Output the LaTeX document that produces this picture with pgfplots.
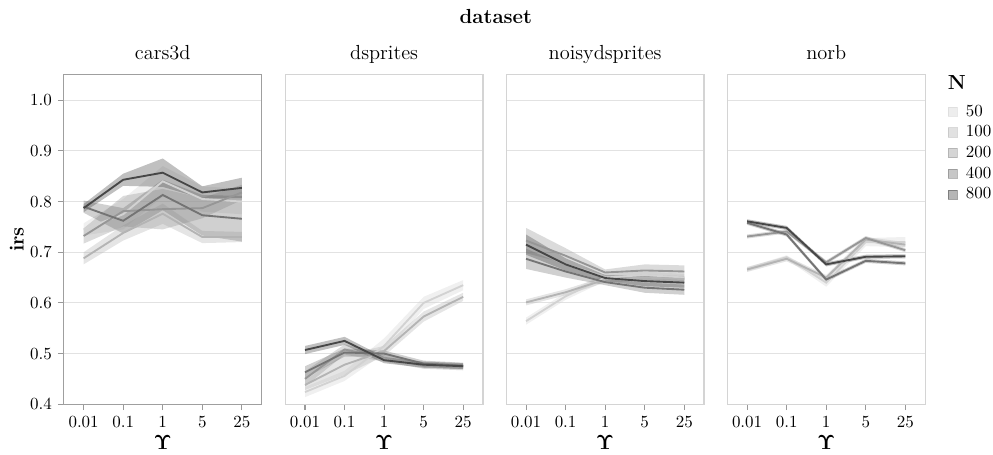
\documentclass[border=0pt]{standalone}
\usepackage{pgfplots}
\pgfplotsset{compat=1.18}
\usepackage{pgfplotstable}
\usepackage{amsmath,bm}
\usepgfplotslibrary{fillbetween}

\definecolor{c50}{HTML}{D2D2D2}
\definecolor{c100}{HTML}{B4B4B4}
\definecolor{c200}{HTML}{969696}
\definecolor{c400}{HTML}{747474}
\definecolor{c800}{HTML}{474747}
\definecolor{gridc}{HTML}{E2E2E2}
\definecolor{framec}{HTML}{D4D4D4}

\pgfplotstableread{
x m50 l50 h50 m100 l100 h100 m200 l200 h200 m400 l400 h400 m800 l800 h800
0 0.745 0.733 0.757 0.688 0.676 0.700 0.732 0.717 0.747 0.790 0.778 0.802 0.787 0.779 0.795
1 0.775 0.745 0.805 0.738 0.723 0.753 0.781 0.751 0.811 0.762 0.737 0.787 0.843 0.831 0.855
2 0.840 0.810 0.870 0.776 0.756 0.796 0.785 0.745 0.825 0.813 0.783 0.843 0.857 0.829 0.885
3 0.805 0.780 0.830 0.730 0.718 0.742 0.787 0.767 0.807 0.773 0.733 0.813 0.818 0.806 0.830
4 0.800 0.775 0.825 0.730 0.720 0.740 0.818 0.803 0.833 0.766 0.721 0.811 0.827 0.807 0.847
}\tcars

\pgfplotstableread{
x m50 l50 h50 m100 l100 h100 m200 l200 h200 m400 l400 h400 m800 l800 h800
0 0.424 0.414 0.434 0.438 0.428 0.448 0.450 0.435 0.465 0.463 0.451 0.475 0.507 0.499 0.515
1 0.456 0.446 0.466 0.478 0.458 0.498 0.508 0.498 0.518 0.502 0.494 0.510 0.525 0.517 0.533
2 0.515 0.500 0.530 0.505 0.495 0.515 0.492 0.484 0.500 0.500 0.494 0.506 0.487 0.481 0.493
3 0.600 0.588 0.612 0.573 0.563 0.583 0.476 0.470 0.482 0.480 0.474 0.486 0.478 0.472 0.484
4 0.635 0.625 0.645 0.612 0.604 0.620 0.473 0.467 0.479 0.476 0.470 0.482 0.475 0.469 0.481
}\tdspr

\pgfplotstableread{
x m50 l50 h50 m100 l100 h100 m200 l200 h200 m400 l400 h400 m800 l800 h800
0 0.564 0.557 0.571 0.601 0.595 0.607 0.723 0.698 0.748 0.687 0.667 0.707 0.715 0.695 0.735
1 0.613 0.606 0.620 0.621 0.615 0.627 0.693 0.678 0.708 0.662 0.650 0.674 0.676 0.664 0.688
2 0.650 0.643 0.657 0.646 0.640 0.652 0.660 0.654 0.666 0.641 0.635 0.647 0.649 0.643 0.655
3 0.655 0.648 0.662 0.650 0.644 0.656 0.664 0.652 0.676 0.630 0.620 0.640 0.643 0.633 0.653
4 0.650 0.643 0.657 0.647 0.641 0.653 0.662 0.650 0.674 0.626 0.616 0.636 0.640 0.630 0.650
}\tnoisy

\pgfplotstableread{
x m50 l50 h50 m100 l100 h100 m200 l200 h200 m400 l400 h400 m800 l800 h800
0 0.666 0.662 0.670 0.666 0.661 0.671 0.731 0.727 0.735 0.758 0.754 0.762 0.761 0.757 0.765
1 0.690 0.686 0.694 0.687 0.682 0.692 0.741 0.737 0.745 0.735 0.731 0.739 0.748 0.744 0.752
2 0.640 0.632 0.648 0.650 0.645 0.655 0.680 0.676 0.684 0.646 0.642 0.650 0.676 0.672 0.680
3 0.720 0.712 0.728 0.725 0.720 0.730 0.728 0.724 0.732 0.683 0.679 0.687 0.691 0.687 0.695
4 0.720 0.710 0.730 0.715 0.710 0.720 0.704 0.700 0.708 0.678 0.674 0.682 0.692 0.688 0.696
}\tnorb

% band: table, id, N, colour
\newcommand{\band}[4]{%
  \addplot[draw=none, forget plot, name path=lo-#2-#3] table[x=x,y=l#3]{#1};
  \addplot[draw=none, forget plot, name path=up-#2-#3] table[x=x,y=h#3]{#1};
  \addplot[fill=#4, fill opacity=0.34, draw=none, forget plot] fill between[of=up-#2-#3 and lo-#2-#3];
}
\newcommand{\meanline}[4]{%
  \addplot[#4, line width=1.1pt, forget plot] table[x=x,y=m#3]{#1};
}
\newcommand{\panel}[2]{%
  \band{#1}{#2}{50}{c50}\band{#1}{#2}{100}{c100}\band{#1}{#2}{200}{c200}\band{#1}{#2}{400}{c400}\band{#1}{#2}{800}{c800}
  \meanline{#1}{#2}{50}{c50}\meanline{#1}{#2}{100}{c100}\meanline{#1}{#2}{200}{c200}\meanline{#1}{#2}{400}{c400}\meanline{#1}{#2}{800}{c800}
}
\newcommand{\swatch}[1]{\addlegendimage{legend image code/.code={\filldraw[fill=#1,draw=#1,fill opacity=0.4,draw opacity=0.5] (0pt,-2.7pt) rectangle (5.4pt,2.7pt);}}}

\pgfplotsset{
  facet/.style={
    scale only axis, width=116.5pt, height=194pt,
    xmin=-0.5, xmax=4.5, ymin=0.4, ymax=1.05,
    xtick={0,1,2,3,4}, xticklabels={0.01,0.1,1,5,25},
    ytick={0.4,0.5,0.6,0.7,0.8,0.9,1.0},
    xtick pos=bottom, ytick pos=left,
    ymajorgrids, grid style={gridc, line width=0.7pt},
    axis line style={framec, line width=0.7pt},
    tick align=outside, major tick length=3.5pt,
    tick style={gray!80, line width=0.6pt},
    xlabel={\large$\boldsymbol{\Upsilon}$},
    xlabel style={yshift=2.5pt},
    title style={anchor=base, yshift=3pt, font=\large},
    clip=false,
  },
  inner/.style={facet, yticklabels={}, ytick style={draw=none}},
}

\begin{document}
\begin{tikzpicture}
\begin{axis}[facet, at={(0pt,0pt)}, title={cars3d},
  yticklabels={0.4,0.5,0.6,0.7,0.8,0.9,1.0},
  ylabel={\large\textbf{irs}}, ylabel style={yshift=-3pt},
  y axis line style={gray!75}]
\panel{\tcars}{cars}
\end{axis}
\begin{axis}[inner, at={(130.4pt,0pt)}, title={dsprites}]
\panel{\tdspr}{dspr}
\end{axis}
\begin{axis}[inner, at={(260.6pt,0pt)}, title={noisydsprites}]
\panel{\tnoisy}{noisy}
\end{axis}
\begin{axis}[inner, at={(390.8pt,0pt)}, title={norb},
  legend style={at={(1.086,0.931)}, anchor=north west, draw=none, fill=none,
    font=\normalsize, row sep=0pt},
  legend cell align=left]
\panel{\tnorb}{norb}
\swatch{c50}\addlegendentry{\hspace{3pt}50}
\swatch{c100}\addlegendentry{\hspace{3pt}100}
\swatch{c200}\addlegendentry{\hspace{3pt}200}
\swatch{c400}\addlegendentry{\hspace{3pt}400}
\swatch{c800}\addlegendentry{\hspace{3pt}800}
\node[anchor=base west, font=\large\bfseries, inner sep=0pt] at (rel axis cs:1.113,1) [yshift=-8.5pt] {N};
\end{axis}
\node[font=\large\bfseries, anchor=base] at (254.5pt,224pt) {dataset};
\pgfresetboundingbox
\useasboundingbox (-37.6pt,-29.4pt) rectangle (547.3pt,238.1pt);
\end{tikzpicture}
\end{document}
